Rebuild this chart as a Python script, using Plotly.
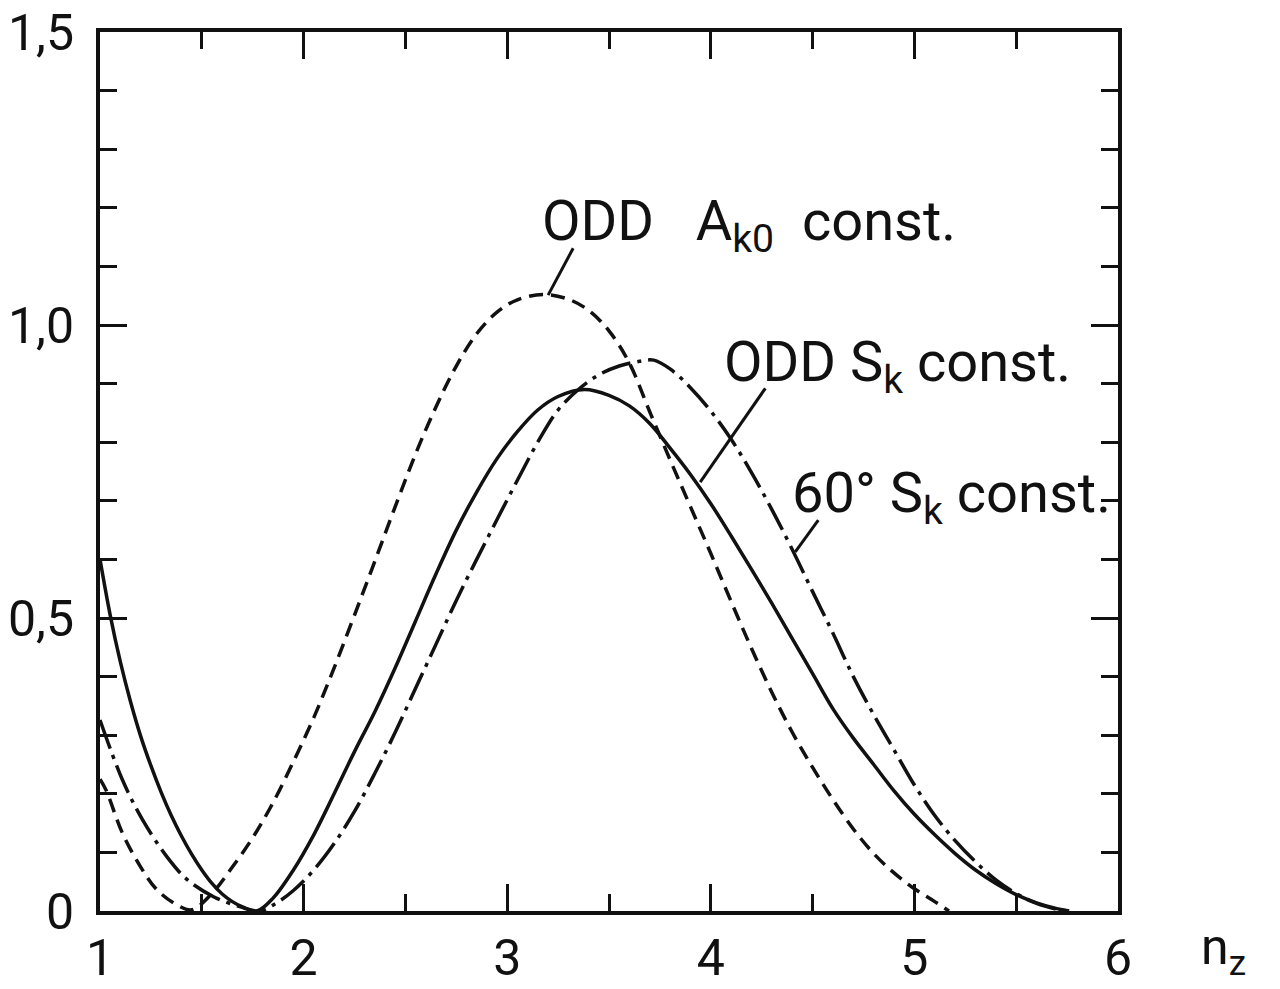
import plotly.graph_objects as go

# ---- data ----
x_ak0 = [1.0, 1.03, 1.11, 1.20, 1.28, 1.38, 1.45, 1.55, 1.65, 1.75, 1.85, 1.95, 2.05, 2.15,
         2.25, 2.35, 2.45, 2.55, 2.65, 2.75, 2.85, 2.95, 3.05, 3.18, 3.30, 3.40, 3.50, 3.60,
         3.70, 3.80, 3.90, 4.00, 4.10, 4.20, 4.30, 4.40, 4.50, 4.60, 4.70, 4.80, 4.90, 5.00,
         5.10, 5.17]
y_ak0 = [0.225, 0.206, 0.133, 0.075, 0.036, 0.010, 0.002, 0.030, 0.075, 0.125, 0.185, 0.255,
         0.330, 0.415, 0.505, 0.597, 0.690, 0.780, 0.860, 0.930, 0.985, 1.022, 1.043, 1.052,
         1.044, 1.025, 0.990, 0.935, 0.852, 0.770, 0.690, 0.610, 0.528, 0.448, 0.373, 0.305,
         0.245, 0.190, 0.140, 0.098, 0.065, 0.038, 0.016, 0.0]

x_sk = [1.0, 1.05, 1.10, 1.15, 1.20, 1.25, 1.30, 1.35, 1.40, 1.45, 1.50, 1.55, 1.60, 1.65,
        1.70, 1.77, 1.85, 1.95, 2.05, 2.15, 2.25, 2.35, 2.45, 2.55, 2.65, 2.75, 2.85, 2.95,
        3.05, 3.15, 3.25, 3.38, 3.50, 3.60, 3.70, 3.80, 3.90, 4.00, 4.10, 4.20, 4.30, 4.40,
        4.50, 4.60, 4.70, 4.80, 4.90, 5.00, 5.10, 5.20, 5.30, 5.40, 5.50, 5.60, 5.70, 5.76]
y_sk = [0.600, 0.505, 0.425, 0.357, 0.298, 0.248, 0.203, 0.163, 0.128, 0.097, 0.070, 0.047,
        0.029, 0.016, 0.007, 0.0, 0.022, 0.070, 0.130, 0.200, 0.272, 0.340, 0.415, 0.495,
        0.575, 0.650, 0.715, 0.772, 0.818, 0.855, 0.878, 0.890, 0.880, 0.862, 0.832, 0.790,
        0.745, 0.695, 0.640, 0.583, 0.525, 0.465, 0.405, 0.345, 0.295, 0.250, 0.205, 0.165,
        0.130, 0.098, 0.070, 0.047, 0.028, 0.014, 0.004, 0.0]

x_60 = [1.0, 1.11, 1.21, 1.33, 1.43, 1.56, 1.69, 1.78, 1.85, 1.95, 2.05, 2.15, 2.25, 2.35,
        2.45, 2.55, 2.65, 2.75, 2.85, 2.95, 3.05, 3.15, 3.25, 3.35, 3.45, 3.55, 3.65, 3.72,
        3.80, 3.90, 4.00, 4.10, 4.20, 4.30, 4.40, 4.50, 4.60, 4.70, 4.80, 4.90, 5.00, 5.10,
        5.20, 5.30, 5.40, 5.50, 5.60, 5.70, 5.75]
y_60 = [0.326, 0.224, 0.155, 0.092, 0.053, 0.024, 0.007, 0.0, 0.010, 0.035, 0.070, 0.115,
        0.170, 0.235, 0.305, 0.380, 0.455, 0.530, 0.600, 0.668, 0.735, 0.800, 0.855, 0.890,
        0.915, 0.930, 0.938, 0.940, 0.925, 0.893, 0.853, 0.805, 0.748, 0.685, 0.617, 0.545,
        0.474, 0.400, 0.335, 0.275, 0.215, 0.163, 0.120, 0.084, 0.053, 0.030, 0.013, 0.003, 0.0]

y_tickvals = [0, 0.5, 1.0, 1.5]
y_ticktext = ["0", "0,5", "1,0", "1,5"]
x_tickvals = [1, 2, 3, 4, 5, 6]
x_ticktext = ["1", "2", "3", "4", "5", "6"]

labels = ["ODD   A<sub>k0</sub>  const.", "ODD S<sub>k</sub> const.", "60° S<sub>k</sub> const."]
label_pos = [(3.16, 1.170), (4.057, 0.930), (4.39, 0.706)]
leaders = [((3.324, 1.131), (3.201, 1.051)),
           ((4.268, 0.892), (3.948, 0.732)),
           ((4.528, 0.667), (4.415, 0.613))]

INK = "#111111"
FONT = "Roboto, DejaVu Sans, sans-serif"

fig = go.Figure()
fig.add_trace(go.Scatter(x=x_ak0, y=y_ak0, mode="lines",
                         line=dict(color=INK, width=3.5, dash="14px,8px", shape="spline", smoothing=1)))
fig.add_trace(go.Scatter(x=x_sk, y=y_sk, mode="lines",
                         line=dict(color=INK, width=3.5, shape="spline", smoothing=1)))
fig.add_trace(go.Scatter(x=x_60, y=y_60, mode="lines",
                         line=dict(color=INK, width=3.5, dash="30px,7px,4px,7px", shape="spline", smoothing=1)))

for (x0, y0), (x1, y1) in leaders:
    fig.add_shape(type="line", x0=x0, y0=y0, x1=x1, y1=y1, xref="x", yref="y",
                  line=dict(color=INK, width=3))

for txt, (lx, ly) in zip(labels, label_pos):
    fig.add_annotation(x=lx, y=ly, xref="x", yref="y", text=txt, showarrow=False,
                       xanchor="left", yanchor="middle",
                       font=dict(family=FONT, size=56, color=INK))

fig.add_annotation(x=1.08, y=-0.046, xref="paper", yref="paper", text="n<sub>z</sub>",
                   showarrow=False, xanchor="left", yanchor="middle",
                   font=dict(family=FONT, size=50, color=INK))

fig.update_layout(
    width=1280, height=989,
    margin=dict(l=100, r=162, t=32, b=78),
    paper_bgcolor="white", plot_bgcolor="white",
    showlegend=False,
    font=dict(family=FONT, size=50, color=INK),
)
fig.update_xaxes(range=[1, 6], showgrid=False, zeroline=False, automargin=False,
                 showline=True, linewidth=4, linecolor=INK, mirror="ticks",
                 ticks="inside", ticklen=27, tickwidth=3, tickcolor=INK,
                 tickvals=x_tickvals, ticktext=x_ticktext, ticklabeloverflow="allow",
                 minor=dict(ticks="inside", dtick=0.5, ticklen=17, tickwidth=3, tickcolor=INK, showgrid=False),
                 ticklabelstandoff=0)
fig.update_yaxes(range=[0, 1.5], showgrid=False, zeroline=False, automargin=False,
                 showline=True, linewidth=4, linecolor=INK, mirror="ticks",
                 ticks="inside", ticklen=27, tickwidth=3, tickcolor=INK,
                 tickvals=y_tickvals, ticktext=y_ticktext, ticklabeloverflow="allow",
                 minor=dict(ticks="inside", dtick=0.1, ticklen=17, tickwidth=3, tickcolor=INK, showgrid=False),
                 ticklabelstandoff=12)

fig.write_html("out.html", config={"displayModeBar": False},
               post_script="document.body.style.margin='0';document.body.style.overflow='hidden';")
